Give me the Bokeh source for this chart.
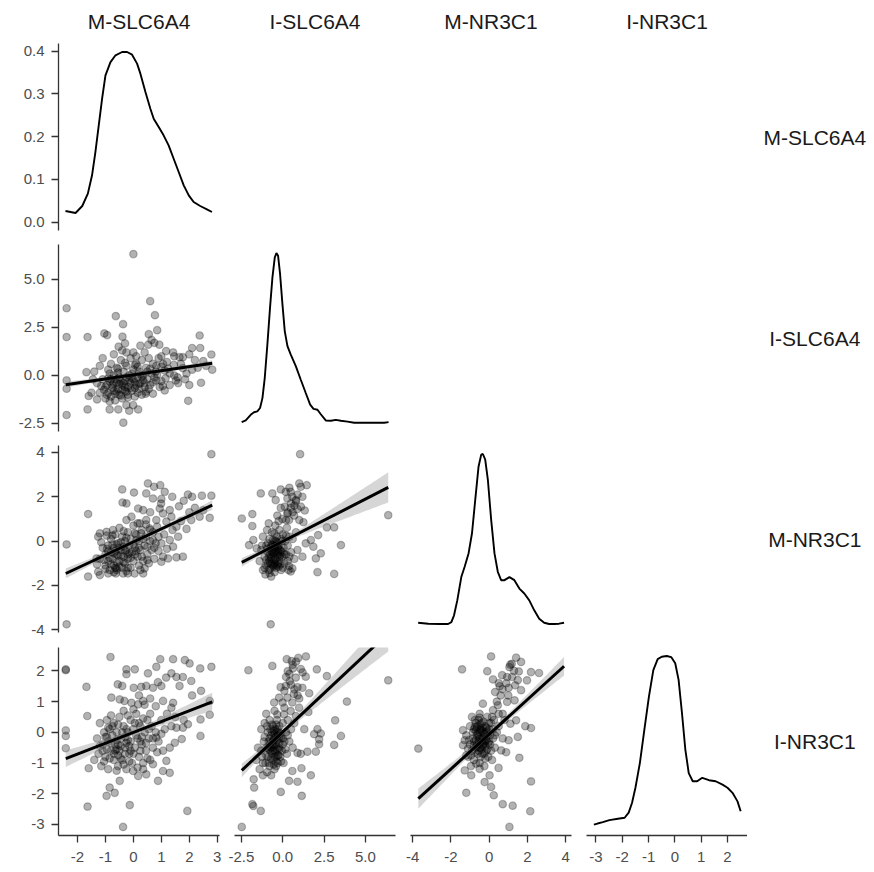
import numpy as np
from bokeh.plotting import figure
from bokeh.layouts import gridplot
from bokeh.models import FixedTicker, NumeralTickFormatter, Range1d, LinearAxis
from bokeh.embed import file_html
from bokeh.resources import INLINE
from bokeh.core.properties import value

# ---------------- data ----------------
variables = ["M-SLC6A4", "I-SLC6A4", "M-NR3C1", "I-NR3C1"]

# axis limits per variable (data range + 5% expansion)
var_limits = [(-2.68, 3.08), (-2.92, 6.82), (-4.12, 4.31), (-3.36, 2.76)]
var_ticks = [[-2, -1, 0, 1, 2, 3], [-2.5, 0, 2.5, 5.0], [-4, -2, 0, 2, 4], [-3, -2, -1, 0, 1, 2]]
var_fmt = ["0", "0.0", "0", "0"]
density_ticks = [0.0, 0.1, 0.2, 0.3, 0.4]

# density curves (diagonal)
dens_m_slc_x = [-2.43, -2.07, -1.83, -1.63, -1.48, -1.36, -1.24, -1.12, -1.0, -0.82, -0.64, -0.405, -0.226,
                -0.048, 0.131, 0.25, 0.43, 0.607, 0.726, 0.905, 1.08, 1.26, 1.44, 1.62, 1.8, 1.98, 2.155,
                2.39, 2.63, 2.81]
dens_m_slc_y = [0.0257, 0.021, 0.0374, 0.0663, 0.1092, 0.1637, 0.226, 0.2885, 0.343, 0.374, 0.39, 0.3977,
                0.3977, 0.3914, 0.3705, 0.347, 0.304, 0.265, 0.2417, 0.222, 0.2027, 0.1793, 0.148, 0.117,
                0.0858, 0.0624, 0.0468, 0.0374, 0.0296, 0.0234]

dens_i_slc_x = [-2.485, -2.24, -1.94, -1.74, -1.54, -1.374, -1.23, -1.09, -0.93, -0.77, -0.626, -0.485,
                -0.384, -0.283, -0.162, -0.02, 0.12, 0.283, 0.485, 0.788, 1.09, 1.39, 1.657, 1.86, 2.1, 2.3,
                2.6, 2.91, 3.21, 3.515, 3.92, 4.32, 4.93, 5.74, 6.14, 6.4]
dens_i_slc_y = [0.003, 0.009, 0.029, 0.038, 0.041, 0.053, 0.088, 0.159, 0.278, 0.408, 0.514, 0.585, 0.601,
                0.591, 0.526, 0.42, 0.325, 0.272, 0.242, 0.201, 0.153, 0.106, 0.065, 0.05, 0.047, 0.031,
                0.009, 0.008, 0.011, 0.008, 0.005, 0.001, 0.001, 0.001, 0.001, 0.003]

dens_m_nr_x = [-3.72, -3.19, -2.59, -2.15, -1.98, -1.84, -1.67, -1.46, -1.285, -1.08, -0.9, -0.729, -0.556,
               -0.417, -0.33, -0.208, -0.069, 0.104, 0.278, 0.451, 0.625, 0.8, 1.06, 1.32, 1.58, 1.84, 2.1,
               2.36, 2.62, 2.88, 3.14, 3.4, 3.66, 3.92]
dens_m_nr_y = [0.004, 0.001, 0.0, 0.0, 0.006, 0.028, 0.076, 0.151, 0.184, 0.227, 0.292, 0.4, 0.507, 0.545,
               0.547, 0.529, 0.464, 0.335, 0.227, 0.168, 0.141, 0.141, 0.151, 0.141, 0.114, 0.098, 0.076,
               0.044, 0.017, 0.004, 0.0, 0.0, 0.001, 0.004]

dens_i_nr_x = [-3.08, -2.94, -2.74, -2.49, -2.167, -1.91, -1.756, -1.628, -1.5, -1.33, -1.16, -0.987, -0.82,
               -0.654, -0.5, -0.308, -0.141, 0.013, 0.141, 0.269, 0.397, 0.526, 0.679, 0.846, 1.04, 1.295,
               1.55, 1.81, 2.0, 2.19, 2.38, 2.5]
dens_i_nr_y = [0.007, 0.01, 0.014, 0.02, 0.024, 0.027, 0.042, 0.071, 0.115, 0.188, 0.285, 0.382, 0.46, 0.492,
               0.499, 0.501, 0.498, 0.48, 0.431, 0.334, 0.227, 0.158, 0.134, 0.134, 0.144, 0.137, 0.134,
               0.124, 0.115, 0.1, 0.075, 0.046]

# scatter points (x, y) per lower panel
pts_islc_mslc = [
    (-2.39, 3.5), (-2.39, 2.0), (-2.39, -0.26), (-2.39, -0.69), (-2.39, -2.06), (-1.64, 2.0), (-1.68, 0.17),
    (-1.6, -1.07), (-1.64, -1.77), (0.0, 6.32), (0.6, 3.87), (0.77, 3.14), (-0.63, 3.09), (-0.37, 2.67),
    (-1.04, 2.19), (-0.94, 2.1), (-0.39, 2.02), (0.85, 2.36), (0.55, 2.15), (2.37, 2.08), (2.39, 1.43),
    (2.1, 1.43), (2.79, 1.09), (2.82, 0.3), (2.42, -0.38), (1.96, -1.32), (-0.36, -2.46), (-0.25, -1.55),
    (-0.01, -1.55), (-0.15, -1.84), (0.17, -1.77), (-0.54, -1.77), (-0.85, -1.77),
    (-0.3, 1.67), (-0.53, 1.5), (-0.25, 1.2), (0.25, 1.55), (0.53, 1.6), (0.65, 1.85), (0.75, 1.7),
    (0.93, 1.6), (1.17, 1.27), (1.42, 1.2), (1.46, 1.0), (1.65, 0.95), (1.77, 0.95), (2.0, 1.1), (2.2, 0.8),
    (2.5, 0.75), (2.6, 0.5), (2.3, 0.4), (1.77, 0.38), (1.46, 0.0), (1.58, -0.1), (1.52, -0.26), (0.82, 0.5),
    (1.06, 0.6), (1.12, 0.26), (1.3, 0.1), (0.82, -0.26), (0.94, -0.6), (1.12, -0.78), (0.7, -0.95),
    (0.44, -0.95), (1.3, -0.5), (1.0, -0.3), (1.6, -0.4), (1.9, 0.1), (2.0, -0.5),
    (-1.3, -0.4), (-1.2, -0.9), (-1.1, -0.2), (-1.0, -1.2), (-1.0, -0.6), (-0.9, 0.3), (-0.9, -0.9),
    (-0.85, -0.3), (-0.8, -1.1), (-0.8, 0.6), (-0.75, -0.5), (-0.7, 0.0), (-0.7, -0.8), (-0.65, -1.3),
    (-0.6, -0.4), (-0.6, 0.4), (-0.55, -0.7), (-0.5, -0.1), (-0.5, -1.0), (-0.45, 0.8), (-0.4, -0.5),
    (-0.4, -1.2), (-0.35, 0.2), (-0.3, -0.3), (-0.3, -0.8), (-0.25, 0.5), (-0.2, -0.6), (-0.2, -1.0),
    (-0.15, 0.0), (-0.1, -0.4), (-0.1, 0.9), (-0.05, -0.8), (0.0, -0.2), (0.0, 0.3), (0.05, -1.1),
    (0.1, -0.5), (0.1, 0.6), (0.15, -0.1), (0.2, -0.7), (0.2, 0.2), (0.25, -0.4), (0.3, 0.8), (0.3, -1.0),
    (0.35, 0.0), (0.4, -0.6), (0.45, 0.4), (0.5, -0.2), (0.55, 0.9), (0.6, -0.5), (0.65, 0.1),
    (-0.95, -0.5), (-0.85, 0.1), (-0.6, -0.2), (-0.45, -0.3), (-0.25, -0.1), (-0.05, 0.1), (0.05, -0.35),
    (-1.4, 0.2), (-1.5, -0.9), (-1.2, 0.5), (0.7, 0.6), (0.9, 0.9), (1.0, 1.0), (1.2, 0.7), (0.75, -0.1),
    (-0.7, 1.1), (-0.4, 1.3), (0.0, 1.2), (0.4, 1.2), (-1.1, 0.9),
    (-0.75, -0.65), (-0.5, -0.45), (-0.3, -0.6), (-0.15, -0.25), (0.05, -0.65), (0.2, -0.45), (0.35, -0.25),
    (-0.65, -0.95), (-0.4, -0.75), (-0.2, -1.15), (0.45, -0.85), (0.6, 0.35), (0.8, 0.2), (1.0, 0.45),
    (1.15, -0.15), (-0.9, -0.15), (-1.05, -0.75), (0.15, 0.45), (-0.55, 0.15), (0.3, -0.05),
    (-1.15, -0.55), (-0.95, -1.0), (-0.8, -0.2), (-0.7, -0.4), (-0.6, -0.85), (-0.55, 0.35), (-0.45, -1.05),
    (-0.35, -0.4), (-0.25, -0.85), (-0.1, -0.65), (-0.05, -0.15), (0.05, 0.55), (0.15, -0.9), (0.25, 0.05),
    (0.4, -0.4), (0.5, 0.2), (0.55, -0.7), (0.7, -0.35), (0.85, 0.05), (1.05, -0.55), (1.25, 0.35),
    (1.45, 0.55), (1.7, 0.6), (1.85, -0.2), (2.1, 0.3), (-1.3, -1.25), (-1.45, -0.2), (-0.85, -1.35),
    (-0.3, 0.65), (0.1, 1.0),
]

pts_mnr_mslc = [
    (2.79, 3.92), (-2.39, -0.15), (-2.39, -3.75), (-1.62, 1.22), (-1.62, -1.6),
    (-0.4, 2.33), (0.02, 2.19), (0.52, 2.6), (0.74, 2.45), (0.96, 2.52), (0.46, 2.15), (1.12, 2.22),
    (1.39, 2.0), (1.95, 2.1), (2.1, 2.0), (2.45, 2.05), (2.79, 2.05), (1.8, 1.82), (-0.39, 1.74),
    (-0.25, 1.7), (2.73, 1.05), (2.37, 1.1), (2.0, 1.3), (1.63, 1.57), (2.07, 0.95),
    (0.99, 1.69), (0.7, 1.92), (0.94, 1.47), (1.06, 1.25), (1.3, 1.4), (1.36, 1.1), (0.82, 0.95),
    (1.18, 0.88), (1.54, 0.65), (1.6, 0.2), (1.3, 0.05), (1.42, -0.25), (1.77, -0.7), (1.54, -0.73),
    (1.24, -0.78), (1.06, -0.7), (1.0, -0.93),
    (0.35, 1.4), (0.17, 1.47), (-0.07, 1.1), (-0.25, 0.95), (0.23, 0.8), (0.46, 0.95), (0.58, 0.57),
    (0.28, 0.35), (0.11, 0.05),
    (-1.26, 0.2), (-1.2, 0.35), (-0.96, 0.42), (-0.73, 0.5), (-1.32, -0.78), (-1.26, -1.38), (-1.2, -1.53),
    (-0.9, -1.46), (-0.63, -1.46), (-0.37, -1.46), (-0.2, -1.46), (0.04, -1.46), (0.35, -1.46),
    (-0.6, -1.23), (0.4, -1.23),
    (-1.1, -0.3), (-1.0, -0.6), (-1.0, -1.1), (-0.9, -0.2), (-0.9, -0.9), (-0.85, -1.3), (-0.8, -0.5),
    (-0.8, 0.1), (-0.75, -0.8), (-0.7, -1.1), (-0.7, -0.3), (-0.65, 0.3), (-0.6, -0.6), (-0.6, -1.3),
    (-0.55, -0.1), (-0.5, -0.9), (-0.5, 0.6), (-0.45, -0.4), (-0.4, -1.2), (-0.4, 0.2), (-0.35, -0.7),
    (-0.3, 0.0), (-0.3, -1.0), (-0.25, -0.4), (-0.2, 0.4), (-0.2, -0.8), (-0.15, -0.2), (-0.1, -1.2),
    (-0.1, 0.1), (-0.05, -0.5), (0.0, 0.7), (0.0, -0.9), (0.05, -0.3), (0.1, 0.3), (0.15, -0.7),
    (0.2, -1.1), (0.2, 0.0), (0.25, -0.4), (0.3, 0.5), (0.35, -0.9), (0.4, -0.2), (0.45, 0.2), (0.5, -0.6),
    (0.55, -1.0), (0.6, 0.0), (0.65, -0.4), (0.7, 0.4), (0.75, -0.8), (0.8, -0.1), (0.9, 0.2),
    (-1.2, -0.8), (-1.15, -0.05), (-0.95, 0.25), (-0.65, -0.45), (-0.35, -0.25), (-0.15, -0.55),
    (0.05, -0.6), (-0.55, -0.65), (-0.75, -0.15), (-0.25, -1.35),
    (-0.85, -0.75), (-0.6, -0.95), (-0.45, -0.65), (-0.3, -0.45), (-0.7, -0.55), (-0.5, -0.3), (-0.2, -0.6),
    (0.0, -0.15), (0.1, -0.45), (0.3, -0.7), (-1.0, -1.25), (-0.65, -1.2), (0.5, -0.25), (0.7, 0.05),
    (0.9, -0.45), (1.1, 0.3), (-0.35, 0.45), (0.15, 0.8), (-0.9, -0.45), (0.45, 0.75),
    (-1.05, -0.85), (-0.95, -0.35), (-0.8, -1.05), (-0.75, 0.25), (-0.6, -0.15), (-0.5, -1.15), (-0.45, -0.05),
    (-0.35, -0.95), (-0.25, 0.15), (-0.1, -0.75), (0.05, 0.35), (0.2, -0.3), (0.35, 0.1), (0.5, -0.85),
    (0.6, 0.5), (0.75, -0.3), (0.85, 0.65), (1.0, -0.1), (1.2, -0.35), (1.4, 0.5), (1.7, 0.9), (1.9, 0.55),
    (2.2, 1.5), (2.5, 1.4), (-1.3, -1.05), (-0.7, -1.4), (-0.2, -1.2), (0.25, -1.3), (0.6, 1.3), (1.0, 1.9),
]

pts_mnr_islc = [
    (1.05, 3.92), (6.38, 1.17), (-0.73, -3.75), (-2.48, 1.02), (-1.84, 1.22), (-1.84, 0.68), (-2.04, -0.18),
    (-1.78, 0.05), (-1.58, -0.33), (-1.33, 2.15), (-0.63, 2.15), (-0.43, 1.85), (3.52, -0.18), (3.11, 0.62),
    (2.67, 0.62), (2.14, 0.27), (2.1, -1.4), (3.11, -1.48), (2.0, -0.78), (2.3, -0.55), (1.85, -0.25),
    (1.7, 0.05), (1.39, -0.1), (1.19, -0.7), (0.89, -0.4), (0.48, -1.37), (0.58, -1.23), (0.38, -1.12),
    (-0.12, 2.33), (0.18, 2.22), (0.48, 2.22), (1.0, 2.6), (1.45, 2.52), (1.09, 2.45), (0.58, 2.0),
    (0.28, 1.92), (0.79, 1.85), (1.19, 2.0), (0.12, 1.55), (0.48, 1.5), (0.89, 1.45), (1.33, 1.38),
    (0.28, 1.25), (0.69, 1.15), (-0.02, 1.0), (0.38, 0.95), (1.0, 0.95), (-0.12, 1.5), (-0.33, 1.15),
    (1.25, 0.85),
    (-1.4, -0.9), (-1.3, -0.4), (-1.2, -1.3), (-1.2, 0.2), (-1.1, -0.7), (-1.05, -1.5), (-1.0, -0.2),
    (-1.0, -1.1), (-0.95, 0.5), (-0.9, -0.5), (-0.85, -1.3), (-0.8, -0.9), (-0.8, 0.1), (-0.75, -0.3),
    (-0.7, -1.6), (-0.7, -0.7), (-0.65, 0.4), (-0.6, -1.1), (-0.6, -0.2), (-0.55, -0.5), (-0.5, -1.4),
    (-0.5, 0.0), (-0.45, -0.8), (-0.45, 0.7), (-0.4, -0.4), (-0.4, -1.2), (-0.35, 0.2), (-0.3, -0.6),
    (-0.3, -1.0), (-0.25, -0.2), (-0.2, 0.5), (-0.2, -0.9), (-0.15, -0.4), (-0.1, -1.3), (-0.1, 0.1),
    (-0.05, -0.7), (0.0, 0.3), (0.05, -0.3), (0.1, -1.0), (0.15, 0.0), (0.2, -0.6), (0.25, 0.6), (0.3, -0.2),
    (0.35, -1.3), (0.4, 0.2), (0.5, -0.5), (0.6, 0.1), (-0.65, -0.45), (-0.55, -0.85), (-0.35, -0.05),
    (-0.15, -0.65), (-0.75, -1.0), (-0.9, -0.1), (-1.25, -0.2), (-0.25, 0.9), (0.7, -0.8), (0.8, 0.4),
    (-0.85, 0.8),
    (-0.7, -0.8), (-0.6, -0.55), (-0.5, -0.3), (-0.45, -1.0), (-0.35, -0.75), (-0.25, -0.35), (-0.55, -1.15),
    (-0.8, -0.6), (-0.4, -0.15), (-0.15, -1.05), (-0.65, -0.15), (-0.3, -0.5), (0.0, -0.5), (-0.75, -1.25),
    (-0.5, 0.35), (0.3, -0.9), (0.5, 1.7), (0.3, 1.3), (0.7, 1.6), (0.9, 2.1),
    (-1.1, -1.2), (-1.0, -0.85), (-0.95, -0.35), (-0.85, -0.75), (-0.8, -1.45), (-0.7, -0.45), (-0.65, -1.05),
    (-0.6, 0.05), (-0.55, -0.65), (-0.5, -1.05), (-0.45, -0.45), (-0.4, 0.0), (-0.35, -1.1), (-0.3, -0.25),
    (-0.2, -0.7), (-0.1, -0.45), (-0.05, 0.0), (0.1, -0.6), (0.2, 0.25), (0.4, -0.7), (-0.9, -1.0),
    (-0.7, -0.25), (-0.45, -0.2), (-0.25, -1.15), (0.0, -1.2), (0.6, 1.3), (0.8, 1.8), (1.1, 1.55),
    (0.4, 2.4), (0.2, 0.95),
]

pts_inr_mslc = [
    (-2.42, 2.05), (-2.42, 2.02), (-2.42, 0.06), (-2.42, -0.12), (-2.42, -0.52), (-1.68, 1.48), (-1.65, 0.53),
    (-1.6, -1.17), (-1.64, -2.42), (-0.82, 2.45), (-0.37, -3.08), (-0.13, -2.37), (-0.96, -2.07),
    (-0.85, -1.8), (-0.67, -1.97), (-0.49, -1.58), (1.93, -2.56), (2.79, 2.13), (2.39, 2.08), (2.42, 1.35),
    (2.73, 0.57), (2.4, 0.42), (2.4, -0.12), (2.73, 1.02),
    (-0.25, 2.05), (0.05, 2.05), (0.52, 1.92), (0.82, 2.13), (0.96, 2.38), (1.42, 2.38), (1.84, 2.35),
    (2.01, 2.24), (1.36, 1.92), (1.17, 1.78), (1.54, 1.8), (1.77, 1.8), (2.07, 1.67), (0.88, 1.63),
    (1.0, 1.51), (0.7, 1.45), (0.46, 1.51), (0.28, 1.48), (0.01, 1.45), (-0.4, 1.51), (-0.25, 1.89),
    (-0.56, 1.56), (-0.79, 1.13), (-0.49, 1.07), (-0.32, 1.02), (-0.07, 0.96), (0.17, 0.91), (0.35, 1.02),
    (1.06, 1.02), (1.42, 0.96), (1.36, 0.8), (1.65, 1.51), (1.95, 0.26), (1.77, 0.15), (1.54, 0.15),
    (1.36, 0.2), (1.73, -0.22), (1.48, -0.34), (1.12, 0.1), (0.82, -0.17), (1.06, -0.6), (1.18, -0.93),
    (1.3, -1.32), (0.88, -1.58), (0.46, -1.37), (0.17, -1.42), (-0.01, -1.26), (0.35, -1.2), (1.06, -1.26),
    (0.7, -1.04),
    (-1.3, -0.2), (-1.25, -0.7), (-1.2, 0.3), (-1.15, -1.1), (-1.1, -0.4), (-1.05, 0.0), (-1.0, -0.8),
    (-0.95, 0.4), (-0.9, -0.3), (-0.9, -1.2), (-0.85, 0.1), (-0.8, -0.6), (-0.75, -0.1), (-0.7, -0.9),
    (-0.7, 0.3), (-0.65, -0.4), (-0.6, 0.0), (-0.55, -1.1), (-0.5, -0.6), (-0.5, 0.5), (-0.45, -0.2),
    (-0.4, -0.9), (-0.35, 0.2), (-0.3, -0.5), (-0.25, -1.2), (-0.2, 0.0), (-0.15, -0.7), (-0.1, 0.4),
    (-0.1, -0.3), (-0.05, -1.0), (0.0, 0.1), (0.05, -0.5), (0.1, 0.6), (0.15, -0.2), (0.2, -0.8),
    (0.25, 0.2), (0.3, -0.4), (0.35, -1.0), (0.4, 0.0), (0.45, -0.6), (0.5, 0.4), (0.55, -0.2), (0.6, -0.9),
    (0.65, 0.2), (0.7, -0.5), (0.8, 0.0), (0.9, -0.3), (-0.95, -0.55), (-0.6, -0.25), (-0.25, -0.35),
    (-0.8, 0.55), (-0.35, 0.7), (0.0, 0.75), (0.2, 0.3), (-1.0, -0.15), (-0.55, -0.75), (-0.15, -0.95),
    (0.25, -0.6),
    (-0.8, -0.35), (-0.6, -0.55), (-0.45, -0.85), (-0.3, -0.15), (-0.15, -0.45), (0.0, -0.7), (0.1, -0.1),
    (-0.7, -0.7), (-0.4, 0.0), (-0.2, -0.25), (0.3, -0.15), (0.45, -0.35), (-1.1, -0.6), (-0.9, 0.15),
    (0.6, 0.6), (0.8, 0.85), (0.4, 0.9), (1.0, 0.4), (-0.55, -0.4), (-0.3, -0.7),
    (-1.2, -0.45), (-1.05, -0.95), (-0.95, -0.15), (-0.85, -0.85), (-0.75, 0.2), (-0.65, -0.6), (-0.55, 0.25),
    (-0.45, -0.45), (-0.35, -1.05), (-0.25, 0.1), (-0.1, -0.6), (0.05, 0.3), (0.15, -1.15), (0.25, -0.3),
    (0.35, 0.45), (0.5, -0.85), (0.55, 0.1), (0.7, -0.2), (0.85, -0.65), (1.0, -0.05), (1.2, 0.6),
    (1.5, 0.5), (1.8, 0.4), (2.1, 1.2), (-1.4, -0.9), (-0.6, -1.25), (0.2, 1.2), (0.6, 1.1), (-0.2, 0.55),
    (1.3, -0.5),
]

pts_inr_islc = [
    (6.38, 1.69), (-2.48, -3.08), (-2.08, 2.02), (-1.84, -2.34), (-1.78, -2.4), (-1.33, -2.56), (-1.73, -1.8),
    (-1.76, -1.53), (-0.12, -1.94), (1.15, -2.07), (-0.63, 2.16), (2.67, 1.83), (3.88, 1.0), (3.17, 0.39),
    (3.52, -0.12), (3.11, -0.41), (2.2, -0.39), (2.0, -0.63), (1.49, -0.63), (1.7, -1.4), (1.13, -1.17),
    (0.89, -1.61), (0.38, -1.58), (0.58, -1.26), (2.1, 0.1), (2.3, -0.04), (1.9, -0.06), (2.2, -0.23),
    (1.3, 0.1), (1.55, 0.66), (1.6, 1.27), (2.06, 2.05), (0.89, -0.67), (1.09, -0.7),
    (0.24, 2.38), (0.54, 2.32), (0.94, 2.42), (1.4, 2.47), (0.61, 2.08), (0.3, 1.99), (1.09, 2.06),
    (1.39, 1.81), (0.79, 1.78), (0.42, 1.66), (-0.13, 1.47), (0.18, 1.51), (0.89, 1.47), (1.19, 1.45),
    (0.67, 1.25), (0.28, 1.13), (-0.22, 1.13), (-0.01, 0.97), (-0.52, 0.97), (0.58, 0.97), (0.99, 0.8),
    (0.48, 0.69), (0.08, 0.58), (-0.33, 0.58), (0.79, 0.53),
    (-1.5, -0.5), (-1.4, -1.2), (-1.3, 0.1), (-1.25, -0.8), (-1.2, -1.4), (-1.15, -0.3), (-1.1, 0.3),
    (-1.05, -1.0), (-1.0, -0.5), (-0.95, -1.3), (-0.9, 0.0), (-0.9, -0.8), (-0.85, -0.3), (-0.8, 0.4),
    (-0.8, -1.1), (-0.75, -0.6), (-0.7, -0.1), (-0.7, -1.4), (-0.65, -0.4), (-0.6, 0.2), (-0.6, -0.9),
    (-0.55, -0.2), (-0.5, -0.6), (-0.5, -1.2), (-0.45, 0.1), (-0.4, -0.4), (-0.4, -0.8), (-0.35, 0.4),
    (-0.3, -0.1), (-0.3, -1.0), (-0.25, -0.5), (-0.2, 0.2), (-0.15, -0.8), (-0.1, -0.2), (-0.05, -0.6),
    (0.0, 0.3), (0.05, -1.0), (0.1, -0.3), (0.2, 0.0), (0.25, -0.7), (0.3, 0.4), (0.4, -0.3), (0.5, 0.1),
    (0.6, -0.5), (0.7, 0.3), (-0.75, -0.35), (-0.55, -0.45), (-0.35, -0.25), (-0.65, 0.0), (-0.45, -0.65),
    (-0.85, -0.55), (-0.25, 0.0), (-1.0, 0.6), (-0.5, 0.7), (0.1, 0.8), (-1.6, -0.9),
    (-0.7, -0.5), (-0.6, -0.3), (-0.5, -0.8), (-0.45, -0.15), (-0.35, -0.55), (-0.3, 0.1), (-0.55, 0.05),
    (-0.65, -0.7), (-0.4, -1.1), (-0.2, -0.35), (-0.8, -0.2), (-0.9, -0.5), (-0.15, -0.05), (0.0, -0.4),
    (-0.25, -0.75), (0.4, 1.9), (0.7, 1.4), (0.2, 1.8), (1.0, 1.1), (0.6, 2.2),
    (-1.3, -0.6), (-1.2, -1.0), (-1.1, -0.15), (-1.0, -0.75), (-0.95, 0.2), (-0.85, -1.0), (-0.8, -0.45),
    (-0.7, -0.85), (-0.65, 0.25), (-0.6, -0.6), (-0.55, -1.05), (-0.5, -0.05), (-0.45, -0.4), (-0.4, -0.95),
    (-0.35, 0.0), (-0.3, -0.75), (-0.2, -0.55), (-0.1, -0.95), (0.0, -0.2), (0.15, -0.55), (-0.75, 0.1),
    (-0.55, -0.25), (-0.4, 0.25), (-0.2, -0.15), (0.3, -0.1), (0.5, 1.55), (0.8, 2.3), (1.2, 1.95),
    (0.1, 1.35), (0.9, 1.2),
]

pts_inr_mnr = [
    (-3.71, -0.53), (-1.42, 2.05), (0.1, 2.47), (-0.1, 1.99), (1.06, -3.08), (0.71, -2.34), (1.23, -2.39),
    (2.15, -2.57), (-1.2, -1.97), (0.24, -2.05), (-0.24, -1.62), (0.1, -1.78), (0.02, -1.4), (0.49, -1.16),
    (1.58, -0.83), (2.19, -1.6), (2.19, 0.14), (1.89, 0.2), (2.61, 1.93), (2.19, 1.96), (1.41, 2.43),
    (1.67, 2.29), (1.06, 2.12), (1.18, 2.23), (0.68, 1.86), (0.2, 1.72), (0.94, 1.8), (1.55, 1.98),
    (1.98, 1.69), (1.36, 1.53), (1.02, 1.45), (0.55, 1.5), (0.31, 1.31), (1.67, 1.37), (1.33, 1.04),
    (0.94, 0.99), (0.45, 0.88), (0.2, 0.72), (0.71, 0.6), (1.41, 0.39), (1.11, 0.28), (1.5, -0.15),
    (1.02, -0.26), (0.71, -0.2), (0.89, -0.65), (0.63, -0.59), (-1.37, 0.07), (-1.28, -0.26), (-1.37, -0.42),
    (-1.2, -0.75), (-1.28, -1.24), (-0.94, -1.4), (-0.5, -1.19), (-0.45, 0.09), (-0.76, 0.17), (-1.11, -0.53),
    (-0.68, -1.02), (-0.33, 0.93), (-0.5, 0.48),
    (-1.2, -0.1), (-1.1, -0.8), (-1.0, 0.2), (-1.0, -0.4), (-0.95, -1.1), (-0.9, -0.6), (-0.85, 0.0),
    (-0.8, -0.3), (-0.8, -0.9), (-0.75, 0.4), (-0.7, -0.5), (-0.65, -0.1), (-0.6, -0.7), (-0.6, 0.2),
    (-0.55, -0.3), (-0.5, -1.0), (-0.5, 0.0), (-0.45, -0.5), (-0.4, 0.3), (-0.4, -0.2), (-0.35, -0.7),
    (-0.3, 0.0), (-0.3, -0.4), (-0.25, -1.1), (-0.2, 0.2), (-0.2, -0.3), (-0.15, -0.6), (-0.1, 0.5),
    (-0.1, -0.1), (-0.05, -0.8), (0.0, 0.1), (0.05, -0.4), (0.1, 0.3), (0.15, -0.9), (0.2, -0.2),
    (0.25, 0.4), (0.3, -0.5), (0.4, 0.0), (-0.55, -0.15), (-0.45, 0.1), (-0.35, -0.25), (-0.25, -0.05),
    (-0.45, -0.35), (-0.65, 0.15), (-0.15, 0.15), (-0.7, -0.25), (-0.5, 0.6), (0.0, -0.3), (-0.9, 0.5),
    (0.5, 0.6),
    (-0.6, -0.45), (-0.5, -0.2), (-0.4, -0.55), (-0.3, -0.15), (-0.2, -0.45), (-0.1, 0.05), (-0.45, 0.25),
    (-0.7, 0.05), (-0.25, -0.7), (-0.55, -0.6), (-0.35, 0.15), (-0.15, -0.25), (0.05, -0.1), (-0.8, -0.45),
    (0.6, 1.2), (0.9, 1.6), (1.2, 1.8), (0.8, 0.4), (1.1, 2.2), (0.4, 1.0),
    (-1.05, -0.25), (-0.95, -0.75), (-0.85, -0.2), (-0.75, -0.65), (-0.7, 0.3), (-0.65, -0.4), (-0.6, -0.05),
    (-0.5, -0.5), (-0.45, -0.8), (-0.4, 0.05), (-0.35, -0.45), (-0.3, 0.35), (-0.25, -0.3), (-0.2, -0.85),
    (-0.15, 0.0), (-0.05, -0.35), (0.0, 0.3), (0.1, -0.6), (0.2, 0.1), (0.3, -0.1), (-0.55, 0.4),
    (-0.8, 0.1), (-0.1, -0.55), (0.15, 0.5), (0.5, 0.2), (0.7, 1.4), (1.0, 1.2), (1.3, 2.0), (0.5, 1.6),
    (1.5, 1.7),
]

# linear fits: x ends, fitted y at the ends,
# confidence half-widths at (left end, centre, right end), centre x
fit_islc_mslc = dict(x=[-2.42, 2.82], y=[-0.48, 0.63], hw=[0.16, 0.06, 0.16], xc=0.05)
fit_mnr_mslc = dict(x=[-2.42, 2.82], y=[-1.46, 1.62], hw=[0.22, 0.08, 0.22], xc=0.05)
fit_mnr_islc = dict(x=[-2.48, 6.38], y=[-0.96, 2.42], hw=[0.2, 0.09, 0.68], xc=-0.1)
fit_inr_mslc = dict(x=[-2.42, 2.82], y=[-0.86, 0.99], hw=[0.27, 0.09, 0.3], xc=0.05)
fit_inr_islc = dict(x=[-2.48, 6.38], y=[-1.24, 3.23], hw=[0.22, 0.09, 0.6], xc=-0.1)
fit_inr_mnr = dict(x=[-3.71, 3.92], y=[-2.16, 2.15], hw=[0.33, 0.08, 0.3], xc=-0.05)

diag = {0: (dens_m_slc_x, dens_m_slc_y), 1: (dens_i_slc_x, dens_i_slc_y),
        2: (dens_m_nr_x, dens_m_nr_y), 3: (dens_i_nr_x, dens_i_nr_y)}
lower = {(1, 0): (pts_islc_mslc, fit_islc_mslc), (2, 0): (pts_mnr_mslc, fit_mnr_mslc),
         (2, 1): (pts_mnr_islc, fit_mnr_islc), (3, 0): (pts_inr_mslc, fit_inr_mslc),
         (3, 1): (pts_inr_islc, fit_inr_islc), (3, 2): (pts_inr_mnr, fit_inr_mnr)}

# ---------------- layout / style ----------------
FW = 161
FH = [187, 187, 187, 188]
COL_LEFT = [58, 7, 7, 7]
COL_RIGHT = [8, 8, 8, 0]
ROW_TOP = 7
ROW_BOTTOM = [7, 7, 8, 34]
HEADER_H = 36
LABEL_W = 127
FONT = "Liberation Sans"
AX_COL = "#333333"
TITLE_SIZE = "21px"


def style_axis(ax, ticks, fmt, standoff):
    ax.ticker = FixedTicker(ticks=ticks)
    ax.formatter = NumeralTickFormatter(format=fmt)
    ax.axis_line_color = AX_COL
    ax.axis_line_width = 1.3
    ax.major_tick_line_color = AX_COL
    ax.major_tick_line_width = 1.3
    ax.major_tick_in = 0
    ax.major_tick_out = 7
    ax.minor_tick_line_color = None
    ax.major_label_text_font = FONT
    ax.major_label_text_font_size = "15px"
    ax.major_label_text_color = "#4d4d4d"
    ax.major_label_standoff = standoff


def base_fig(frame_w, frame_h, left, right, top, bottom, xr, yr):
    p = figure(frame_width=frame_w, frame_height=frame_h, x_range=Range1d(*xr), y_range=Range1d(*yr),
               x_axis_type=None, y_axis_type=None, output_backend="svg", toolbar_location=None,
               min_border_left=left, min_border_right=right, min_border_top=top, min_border_bottom=bottom)
    p.outline_line_color = None
    p.background_fill_color = "white"
    p.border_fill_color = "white"
    return p


def band(fit, n=60):
    x0, x1 = fit["x"]
    y0, y1 = fit["y"]
    h0, hc, h1 = fit["hw"]
    xc = fit["xc"]
    xs = np.linspace(x0, x1, n)
    ys = y0 + (y1 - y0) * (xs - x0) / (x1 - x0)
    t = np.where(xs < xc, (xs - xc) / (x0 - xc), (xs - xc) / (x1 - xc))
    he = np.where(xs < xc, h0, h1)
    hw = np.sqrt(hc ** 2 + (he ** 2 - hc ** 2) * t ** 2)
    return xs, ys - hw, ys + hw


grid = []

# header row with column labels
hdr = []
for c, name in enumerate(variables):
    p = base_fig(FW, HEADER_H, COL_LEFT[c], COL_RIGHT[c], 0, 0, (0, 1), (0, 1))
    p.text(x=[0.5], y=[0.42], text=[name], text_align="center", text_baseline="middle",
           text_font=value(FONT), text_font_size=TITLE_SIZE, text_color="#1a1a1a")
    hdr.append(p)
hdr.append(None)
grid.append(hdr)

for r in range(4):
    row = []
    for c in range(4):
        if c > r:
            row.append(None)
            continue
        if r == c:
            dx, dy = diag[r]
            ymax = max(dy)
            yr = (-0.05 * ymax, 1.05 * ymax)
        else:
            yr = var_limits[r]
        p = base_fig(FW, FH[r], COL_LEFT[c], COL_RIGHT[c], ROW_TOP, ROW_BOTTOM[r], var_limits[c], yr)
        if r == c:
            p.line(x=dx, y=dy, line_color="black", line_width=1.9)
        else:
            pts, fit = lower[(r, c)]
            xs = [a for a, b in pts]
            ys = [b for a, b in pts]
            p.scatter(x=xs, y=ys, size=7.5, fill_color="black", fill_alpha=0.3,
                      line_color="black", line_alpha=0.25, line_width=1.2)
            bx, blo, bhi = band(fit)
            p.varea(x=bx, y1=blo, y2=bhi, fill_color="#999999", fill_alpha=0.4)
            p.line(x=fit["x"], y=fit["y"], line_color="black", line_width=3)
        if c == 0:
            ax = LinearAxis()
            if r == 0:
                style_axis(ax, density_ticks, "0.0", 7)
            else:
                style_axis(ax, var_ticks[r], var_fmt[r], 7)
            p.add_layout(ax, "left")
        if r == 3:
            ax = LinearAxis()
            style_axis(ax, var_ticks[c], var_fmt[c], 9)
            p.add_layout(ax, "below")
        row.append(p)
    # row label on the right
    lab = base_fig(LABEL_W, FH[r], 0, 0, ROW_TOP, ROW_BOTTOM[r], (0, 1), (0, 1))
    lab.text(x=[0.53], y=[0.5], text=[variables[r]], text_align="center", text_baseline="middle",
             text_font=value(FONT), text_font_size=TITLE_SIZE, text_color="#1a1a1a")
    row.append(lab)
    grid.append(row)

layout = gridplot(grid, toolbar_location=None)
open("out.html", "w").write(file_html(layout, INLINE))
